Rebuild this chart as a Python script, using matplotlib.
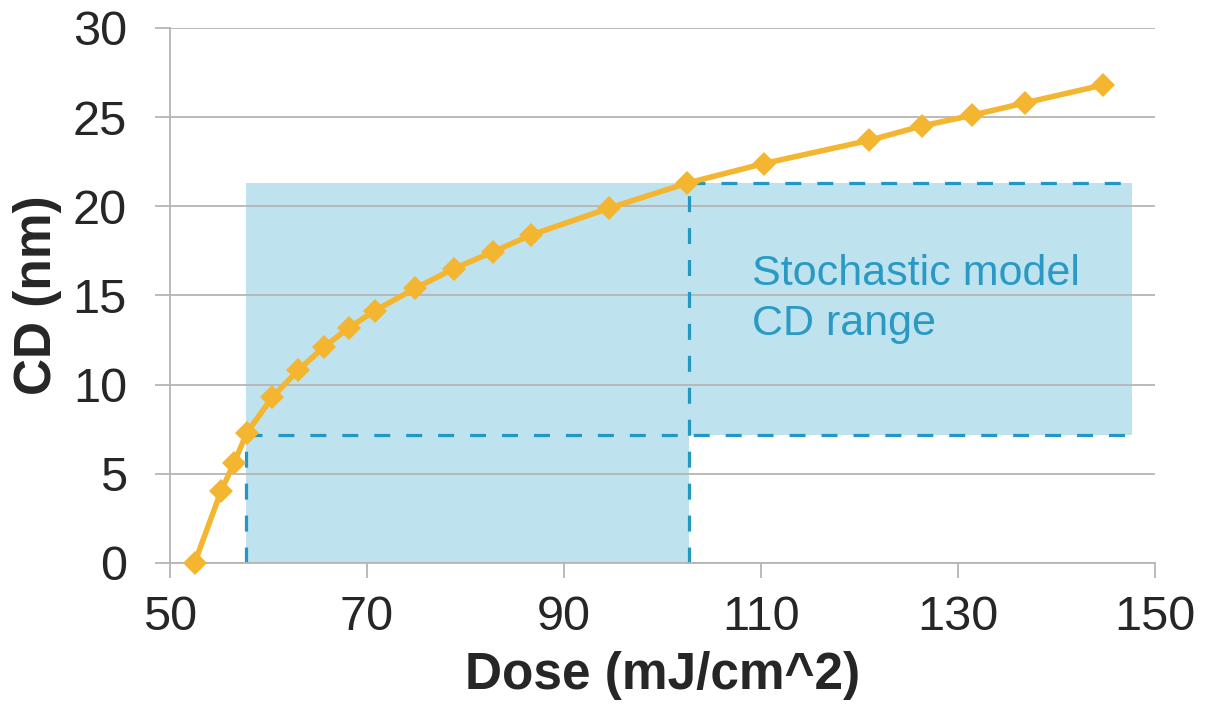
import matplotlib
matplotlib.use("Agg")
import matplotlib.pyplot as plt

# dose sweep and resulting CD
dose = [52.5, 55.2, 56.5, 57.8, 60.4, 63.0, 65.6, 68.2, 70.8, 74.9, 78.8,
        82.8, 86.7, 94.6, 102.5, 110.3, 121.0, 126.3, 131.4, 136.8, 144.7]
cd = [0.0, 4.05, 5.6, 7.3, 9.3, 10.8, 12.1, 13.2, 14.15, 15.4, 16.5,
      17.45, 18.4, 19.9, 21.3, 22.4, 23.7, 24.5, 25.1, 25.8, 26.8]

# stochastic model window
dose_lo, dose_hi, dose_edge = 57.7, 102.7, 147.7
cd_lo, cd_hi = 7.2, 21.3
box_label = "Stochastic model\nCD range"

xticks = [50, 70, 90, 110, 130, 150]
yticks = [0, 5, 10, 15, 20, 25, 30]

plt.rcParams['font.family'] = ['Liberation Sans', 'DejaVu Sans']

gold = '#F4B630'
blue_fill = '#BEE2EE'
blue_line = '#2197C2'
grey = '#B5B5B5'

fig = plt.figure(figsize=(12.08, 7.17), dpi=100)
ax = fig.add_axes([0.1407, 0.2148, 0.8154, 0.7462])

# L-shaped shaded region
ax.fill([dose_lo, dose_edge, dose_edge, dose_hi, dose_hi, dose_lo],
        [cd_lo, cd_lo, cd_hi, cd_hi, 0, 0],
        color=blue_fill, lw=0, zorder=1)
ax.fill([dose_lo, dose_hi, dose_hi, dose_lo],
        [cd_lo, cd_lo, cd_hi, cd_hi],
        color=blue_fill, lw=0, zorder=1)

dash = dict(color=blue_line, lw=2.3, dashes=(5, 5), zorder=2)
ax.plot([dose_lo, dose_lo], [0, cd_lo], **dash)
ax.plot([dose_lo, dose_edge], [cd_lo, cd_lo], **dash)
ax.plot([dose_hi, dose_hi], [0, cd_hi], **dash)
ax.plot([dose_hi, dose_edge], [cd_hi, cd_hi], **dash)

ax.plot(dose, cd, color=gold, lw=4.0, marker='D', markersize=12,
        markeredgewidth=0, zorder=4, clip_on=False)

ax.text(109.1, 14.8, box_label, color='#2A9AC4', fontsize=31,
        ha='left', va='center', linespacing=1.3)

ax.set_xlim(50, 150)
ax.set_ylim(0, 30)
ax.set_xticks(xticks)
ax.set_yticks(yticks)
ax.yaxis.grid(True, color=grey, lw=1.3, zorder=1.5)

for side in ['top', 'right']:
    ax.spines[side].set_visible(False)
for side in ['left', 'bottom']:
    ax.spines[side].set_color(grey)
    ax.spines[side].set_linewidth(1.3)

ax.tick_params(axis='both', colors=grey, length=11, width=1.3,
               labelsize=35, labelcolor='#262626')
ax.tick_params(axis='x', pad=12)
ax.tick_params(axis='y', pad=20)

ax.set_xlabel("Dose (mJ/cm^2)", fontsize=37, fontweight='bold',
              color='#262626', labelpad=8)
ax.set_ylabel("CD (nm)", fontsize=37, fontweight='bold',
              color='#262626', labelpad=8)

fig.savefig("out.png", dpi=100)
